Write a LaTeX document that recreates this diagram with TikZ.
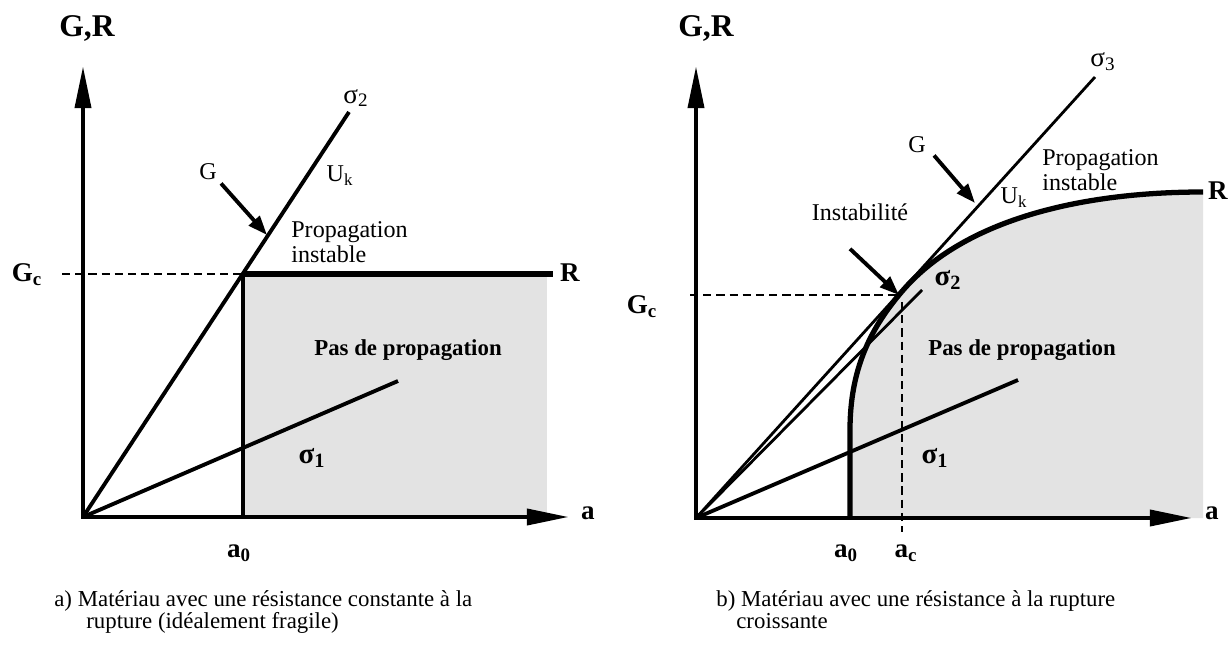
\documentclass[tikz,border=0pt]{standalone}
\usepackage{fontspec}
\setmainfont{Liberation Serif}
\usetikzlibrary{arrows.meta}
\definecolor{zoneshade}{HTML}{E3E3E3}

\begin{document}
\begin{tikzpicture}[x=0.02cm,y=-0.02cm,
  axis/.style={line width=2.5pt,line cap=rect,-{Triangle[length=24pt,width=9pt]}},
  load/.style={line width=2.2pt},
  thinload/.style={line width=1.6pt},
  resist/.style={line width=3pt},
  guide/.style={line width=1.6pt,dash pattern=on 4.7pt off 2.8pt},
  ptr/.style={line width=2.2pt,-{Triangle[length=11pt,width=8pt]}},
  lbl/.style={inner sep=0pt,font=\fontsize{13.7}{14.2}\selectfont},
  blbl/.style={inner sep=0pt,font=\fontsize{15.4}{16}\selectfont\bfseries},
  sig/.style={inner sep=0pt,font=\fontsize{15.5}{16}\selectfont},
  bsig/.style={inner sep=0pt,font=\fontsize{16.5}{17}\selectfont\bfseries},
  axname/.style={inner sep=0pt,font=\fontsize{18}{19}\selectfont\bfseries},
  zonetxt/.style={inner sep=0pt,font=\fontsize{13}{14}\selectfont\bfseries},
  captxt/.style={inner sep=0pt,anchor=base west,font=\fontsize{13}{12.5}\selectfont}]
  \useasboundingbox (0,0) rectangle (1228,645);
  % (a) constant resistance
  \coordinate (o1) at (83,517); \coordinate (gc1pt) at (243,274);
  \coordinate (s2end) at (349,112); \coordinate (s1end) at (398,381);
  \coordinate (g1tip) at (267,235);
  \fill[zoneshade] (gc1pt) rectangle (547,517);
  \draw[guide] (62,274) -- (gc1pt);
  \draw[axis] (o1) -- (83,66); \draw[axis] (o1) -- (569,517);
  \draw[resist] (gc1pt) -- (553,274); \draw[line width=2.5pt] (gc1pt) -- (243,517);
  \draw[load] (o1) -- (s2end); \draw[load] (o1) -- (s1end);
  \node[axname] (gr1) at (87,28) {G,R};
  \node[blbl] (gc1) at (27,275) {G\textsubscript{c}};
  \node[blbl] (r1) at (570,273) {R};
  \node[blbl] (a1) at (588,513) {a};
  \node[blbl] (a01) at (239,553) {a\textsubscript{0}};
  \node[sig] (s21) at (356,98) {σ\textsubscript{2}};
  \node[lbl] (uk1) at (340,176) {U\textsubscript{k}};
  \node[lbl] (g1) at (208,172) {G};
  \draw[ptr] (g1.south east) ++(4,3) -- (g1tip);
  \node[lbl,align=left,anchor=west] (prop1) at (291,242) {Propagation\\instable};
  \node[zonetxt] (pas1) at (408,350) {Pas de propagation};
  \node[bsig] (s11) at (312,458) {σ\textsubscript{1}};
  \node[captxt] (cap1) at (54,606) {a) Matériau avec une résistance constante à la};
  \node[captxt] (cap1b) at (86,628) {rupture (idéalement fragile)};
  % (b) rising resistance
  \coordinate (o2) at (696,518); \coordinate (inst) at (899,295);
  \coordinate (s3end) at (1095,77); \coordinate (s2bend) at (922,290);
  \coordinate (s1bend) at (1018,380); \coordinate (g2tip) at (975,203);
  \fill[zoneshade] (850,518) -- (850,430) .. controls (850,370) and (870,330) .. (inst)
    .. controls (960,220) and (1080,192) .. (1203,192) -- (1203,518) -- cycle;
  \draw[guide] (690,295) -- (inst); \draw[guide] (902,302) -- (902,532);
  \draw[axis] (o2) -- (696,66); \draw[axis] (o2) -- (1192,518);
  \draw[resist] (850,518) -- (850,430) .. controls (850,370) and (870,330) .. (inst)
    .. controls (960,220) and (1080,192) .. (1203,192);
  \draw[thinload] (o2) -- (s3end); \draw[thinload] (o2) -- (s2bend);
  \draw[load] (o2) -- (s1bend);
  \node[axname] (gr2) at (706,28) {G,R};
  \node[blbl] (gc2) at (642,307) {G\textsubscript{c}};
  \node[blbl] (r2) at (1218,191) {R};
  \node[blbl] (a2) at (1212,513) {a};
  \node[blbl] (a02) at (846,553) {a\textsubscript{0}};
  \node[blbl] (ac2) at (906,553) {a\textsubscript{c}};
  \node[sig] (s32) at (1103,62) {σ\textsubscript{3}};
  \node[lbl] (g2) at (917,145) {G};
  \draw[ptr] (g2.south east) ++(8,2) -- (g2tip);
  \node[lbl] (uk2) at (1014,198) {U\textsubscript{k}};
  \node[lbl,align=left,anchor=west] (prop2) at (1042,170) {Propagation\\instable};
  \node[lbl] (inst2) at (860,212) {Instabilité};
  \draw[ptr] (inst2.south) ++(-10,28) -- (inst);
  \node[bsig] (s22) at (948,280) {σ\textsubscript{2}};
  \node[zonetxt] (pas2) at (1022,350) {Pas de propagation};
  \node[bsig] (s12) at (935,458) {σ\textsubscript{1}};
  \node[captxt] (cap2) at (716,606) {b) Matériau avec une résistance à la rupture};
  \node[captxt] (cap2b) at (736,628) {croissante};
\end{tikzpicture}
\end{document}
